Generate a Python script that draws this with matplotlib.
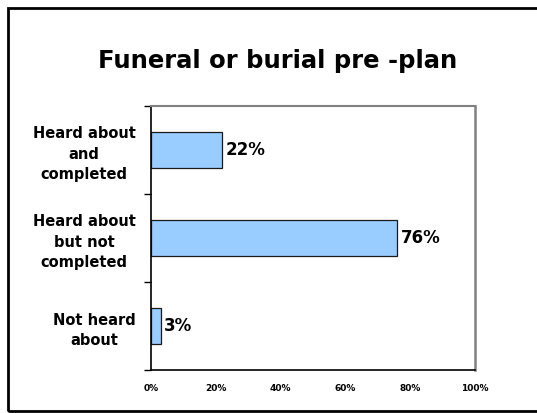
import numpy as np
import matplotlib.pyplot as plt
from matplotlib.patches import Rectangle

categories = ['Heard about\nand\ncompleted', 'Heard about\nbut not\ncompleted', 'Not heard\nabout']
values = [22, 76, 3]
xticks = [0, 20, 40, 60, 80, 100]
xtick_labels = ['0%', '20%', '40%', '60%', '80%', '100%']

plt.rcParams['font.family'] = ['DejaVu Sans']
plt.rcParams['font.weight'] = 'bold'

fig = plt.figure(figsize=(5.37, 4.13), dpi=100)
ax = fig.add_axes([0.2812, 0.1041, 0.6033, 0.6392])

# outer frame around the slide
fig.patches.append(Rectangle((8 / 537, 2 / 413), 1.0, 403 / 413, transform=fig.transFigure,
                             fill=False, edgecolor='black', linewidth=2.0))

pos = np.arange(len(categories))
ax.barh(pos, values, height=0.4, color='#99CCFF', edgecolor='#1a1a1a', linewidth=0.9)
for p, v in zip(pos, values):
    ax.text(v + 1.0, p, f'{v}%', va='center', ha='left', fontsize=12, fontweight='bold')

ax.set_xlim(0, 100)
ax.set_ylim(len(categories) - 0.5, -0.5)
ax.set_xticks(xticks)
ax.set_xticklabels(xtick_labels, fontsize=6.5, fontweight='bold')
ax.tick_params(axis='x', length=0, pad=10)

# major ticks mark category boundaries, labels sit on minor ticks
ax.set_yticks(np.arange(-0.5, len(categories), 1.0))
ax.set_yticklabels([])
ax.set_yticks(pos, minor=True)
ax.set_yticklabels(categories, minor=True, fontsize=10.5, fontweight='bold',
                   ha='right', multialignment='center', linespacing=1.45)
ax.tick_params(axis='y', which='major', length=5, width=1.0, direction='out')
ax.tick_params(axis='y', which='minor', length=0, pad=11)

ax.spines['left'].set_color('black')
ax.spines['bottom'].set_color('black')
ax.spines['left'].set_linewidth(1.2)
ax.spines['bottom'].set_linewidth(1.2)
ax.spines['top'].set_color('#808080')
ax.spines['right'].set_color('#808080')
ax.spines['top'].set_linewidth(1.5)
ax.spines['right'].set_linewidth(1.8)

fig.text(0.517, 0.852, 'Funeral or burial pre -plan', ha='center', va='center',
         fontsize=17.5, fontweight='bold')

fig.savefig('out.png', dpi=100)
